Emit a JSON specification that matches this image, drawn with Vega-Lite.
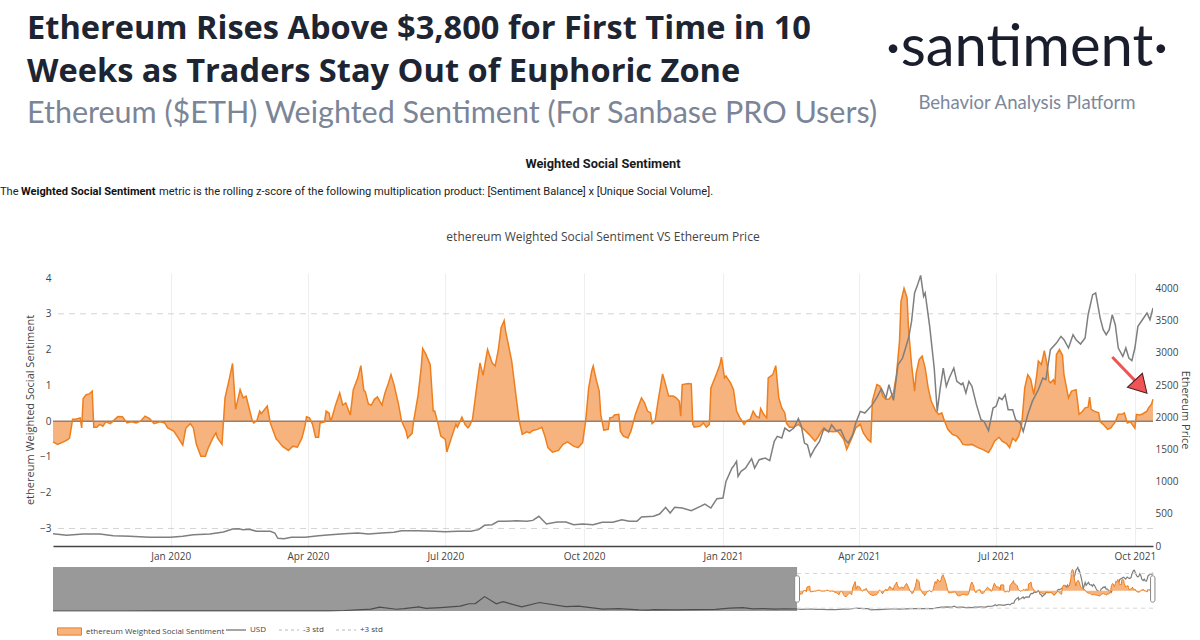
{
"$schema": "https://vega.github.io/schema/vega-lite/v6.json",
"autosize": {"type": "pad"},
"padding": {"left": 0, "top": 12, "right": 6, "bottom": 0},
"background": "white",
"bounds": "flush",
"spacing": 0,
"config": {
  "view": {"stroke": null},
  "font": "Open Sans",
  "axis": {"labelFont": "Open Sans", "titleFont": "Open Sans", "labelColor": "#444", "titleColor": "#444", "labelFontSize": 10, "titleFontSize": 11, "titleFontWeight": "normal", "ticks": false, "domain": false, "grid": false, "labelOverlap": false},
  "axisY": {"labelOverlap": false},
  "axisLeft": {"labelOverlap": false},
  "axisQuantitative": {"labelOverlap": false},
  "legend": {"labelFont": "Open Sans"}
},
"resolve": {"scale": {"x": "independent", "y": "independent", "color": "independent", "strokeDash": "independent", "fill": "independent"}},
"datasets": {
"sent": [
{"date":"2019-10-15","v":-0.58},{"date":"2019-10-18","v":-0.65},{"date":"2019-10-22","v":-0.58},{"date":"2019-10-25","v":-0.51},{"date":"2019-10-26","v":-0.47},{"date":"2019-10-28","v":0.05},{"date":"2019-10-30","v":0.05},{"date":"2019-11-02","v":0.09},{"date":"2019-11-03","v":-0.19},{"date":"2019-11-04","v":0.63},{"date":"2019-11-06","v":0.74},{"date":"2019-11-08","v":0.76},{"date":"2019-11-10","v":0.84},{"date":"2019-11-11","v":-0.17},{"date":"2019-11-13","v":-0.17},{"date":"2019-11-15","v":-0.09},{"date":"2019-11-17","v":-0.14},{"date":"2019-11-19","v":-0.02},{"date":"2019-11-22","v":-0.07},{"date":"2019-11-25","v":0.05},{"date":"2019-11-27","v":0.13},{"date":"2019-11-30","v":0.12},{"date":"2019-12-03","v":-0.05},{"date":"2019-12-06","v":-0.02},{"date":"2019-12-09","v":-0.05},{"date":"2019-12-12","v":0.0},{"date":"2019-12-15","v":0.14},{"date":"2019-12-18","v":0.07},{"date":"2019-12-21","v":-0.07},{"date":"2019-12-25","v":-0.02},{"date":"2019-12-28","v":-0.05},{"date":"2019-12-30","v":-0.19},{"date":"2020-01-03","v":-0.28},{"date":"2020-01-06","v":-0.47},{"date":"2020-01-09","v":-0.67},{"date":"2020-01-11","v":-0.2},{"date":"2020-01-14","v":-0.07},{"date":"2020-01-16","v":-0.19},{"date":"2020-01-18","v":-0.65},{"date":"2020-01-21","v":-0.98},{"date":"2020-01-24","v":-0.98},{"date":"2020-01-26","v":-0.74},{"date":"2020-01-29","v":-0.47},{"date":"2020-01-31","v":-0.33},{"date":"2020-02-01","v":-0.47},{"date":"2020-02-04","v":-0.65},{"date":"2020-02-05","v":0.0},{"date":"2020-02-06","v":0.65},{"date":"2020-02-09","v":1.21},{"date":"2020-02-11","v":1.61},{"date":"2020-02-13","v":0.33},{"date":"2020-02-16","v":0.88},{"date":"2020-02-18","v":0.65},{"date":"2020-02-20","v":0.7},{"date":"2020-02-24","v":0.02},{"date":"2020-02-25","v":-0.05},{"date":"2020-02-27","v":0.0},{"date":"2020-02-29","v":0.28},{"date":"2020-03-01","v":0.21},{"date":"2020-03-05","v":0.42},{"date":"2020-03-07","v":-0.05},{"date":"2020-03-09","v":-0.28},{"date":"2020-03-11","v":-0.51},{"date":"2020-03-12","v":-0.54},{"date":"2020-03-15","v":-0.7},{"date":"2020-03-19","v":-0.82},{"date":"2020-03-22","v":-0.7},{"date":"2020-03-25","v":-0.73},{"date":"2020-03-28","v":-0.47},{"date":"2020-03-30","v":-0.14},{"date":"2020-03-31","v":0.12},{"date":"2020-04-02","v":0.09},{"date":"2020-04-04","v":-0.09},{"date":"2020-04-06","v":-0.45},{"date":"2020-04-08","v":-0.45},{"date":"2020-04-09","v":-0.05},{"date":"2020-04-12","v":-0.02},{"date":"2020-04-13","v":0.28},{"date":"2020-04-15","v":0.22},{"date":"2020-04-16","v":-0.02},{"date":"2020-04-18","v":0.26},{"date":"2020-04-19","v":0.42},{"date":"2020-04-22","v":0.79},{"date":"2020-04-24","v":0.45},{"date":"2020-04-26","v":0.51},{"date":"2020-04-29","v":0.17},{"date":"2020-05-01","v":0.88},{"date":"2020-05-04","v":1.21},{"date":"2020-05-06","v":1.55},{"date":"2020-05-08","v":0.86},{"date":"2020-05-09","v":0.82},{"date":"2020-05-11","v":0.48},{"date":"2020-05-13","v":0.45},{"date":"2020-05-15","v":0.61},{"date":"2020-05-17","v":0.68},{"date":"2020-05-20","v":0.45},{"date":"2020-05-22","v":0.79},{"date":"2020-05-24","v":1.02},{"date":"2020-05-26","v":1.3},{"date":"2020-05-28","v":1.02},{"date":"2020-05-31","v":0.47},{"date":"2020-06-02","v":0.0},{"date":"2020-06-05","v":-0.28},{"date":"2020-06-06","v":-0.47},{"date":"2020-06-09","v":-0.34},{"date":"2020-06-10","v":0.0},{"date":"2020-06-13","v":0.74},{"date":"2020-06-15","v":1.49},{"date":"2020-06-16","v":2.03},{"date":"2020-06-18","v":1.88},{"date":"2020-06-21","v":1.58},{"date":"2020-06-23","v":0.28},{"date":"2020-06-24","v":0.28},{"date":"2020-06-26","v":-0.05},{"date":"2020-06-28","v":-0.42},{"date":"2020-07-01","v":-0.51},{"date":"2020-07-02","v":-0.86},{"date":"2020-07-05","v":-0.47},{"date":"2020-07-08","v":-0.09},{"date":"2020-07-09","v":-0.17},{"date":"2020-07-12","v":0.11},{"date":"2020-07-14","v":-0.09},{"date":"2020-07-16","v":-0.19},{"date":"2020-07-17","v":-0.14},{"date":"2020-07-19","v":0.05},{"date":"2020-07-20","v":0.37},{"date":"2020-07-22","v":1.02},{"date":"2020-07-24","v":1.63},{"date":"2020-07-26","v":1.28},{"date":"2020-07-28","v":1.77},{"date":"2020-07-29","v":2.0},{"date":"2020-08-01","v":1.63},{"date":"2020-08-03","v":1.54},{"date":"2020-08-05","v":1.96},{"date":"2020-08-07","v":2.61},{"date":"2020-08-09","v":2.81},{"date":"2020-08-10","v":2.51},{"date":"2020-08-14","v":1.68},{"date":"2020-08-17","v":0.65},{"date":"2020-08-19","v":0.0},{"date":"2020-08-21","v":-0.37},{"date":"2020-08-24","v":-0.3},{"date":"2020-08-26","v":-0.33},{"date":"2020-08-28","v":-0.26},{"date":"2020-08-31","v":-0.23},{"date":"2020-09-03","v":-0.17},{"date":"2020-09-05","v":-0.42},{"date":"2020-09-07","v":-0.74},{"date":"2020-09-10","v":-0.87},{"date":"2020-09-14","v":-0.82},{"date":"2020-09-17","v":-0.65},{"date":"2020-09-20","v":-0.58},{"date":"2020-09-24","v":-0.7},{"date":"2020-09-27","v":-0.74},{"date":"2020-09-30","v":-0.6},{"date":"2020-10-02","v":0.0},{"date":"2020-10-04","v":0.93},{"date":"2020-10-06","v":1.4},{"date":"2020-10-07","v":1.54},{"date":"2020-10-09","v":1.16},{"date":"2020-10-11","v":0.84},{"date":"2020-10-12","v":0.19},{"date":"2020-10-14","v":-0.25},{"date":"2020-10-17","v":-0.23},{"date":"2020-10-18","v":0.09},{"date":"2020-10-20","v":0.11},{"date":"2020-10-21","v":0.17},{"date":"2020-10-24","v":0.19},{"date":"2020-10-25","v":-0.28},{"date":"2020-10-27","v":-0.42},{"date":"2020-10-30","v":-0.47},{"date":"2020-11-01","v":-0.28},{"date":"2020-11-04","v":0.19},{"date":"2020-11-06","v":0.42},{"date":"2020-11-08","v":0.65},{"date":"2020-11-10","v":0.51},{"date":"2020-11-12","v":0.28},{"date":"2020-11-14","v":0.23},{"date":"2020-11-15","v":-0.07},{"date":"2020-11-17","v":0.0},{"date":"2020-11-19","v":0.56},{"date":"2020-11-22","v":1.32},{"date":"2020-11-24","v":1.02},{"date":"2020-11-26","v":0.7},{"date":"2020-11-29","v":0.7},{"date":"2020-12-01","v":0.65},{"date":"2020-12-03","v":0.56},{"date":"2020-12-04","v":0.14},{"date":"2020-12-05","v":1.02},{"date":"2020-12-09","v":1.05},{"date":"2020-12-11","v":1.04},{"date":"2020-12-12","v":-0.09},{"date":"2020-12-13","v":-0.17},{"date":"2020-12-17","v":-0.14},{"date":"2020-12-19","v":-0.05},{"date":"2020-12-21","v":-0.17},{"date":"2020-12-23","v":-0.09},{"date":"2020-12-24","v":0.93},{"date":"2020-12-28","v":1.35},{"date":"2020-12-30","v":1.58},{"date":"2020-12-31","v":1.79},{"date":"2021-01-02","v":1.21},{"date":"2021-01-03","v":1.26},{"date":"2021-01-06","v":1.07},{"date":"2021-01-08","v":0.88},{"date":"2021-01-10","v":0.28},{"date":"2021-01-12","v":0.11},{"date":"2021-01-15","v":-0.09},{"date":"2021-01-17","v":0.02},{"date":"2021-01-19","v":0.05},{"date":"2021-01-21","v":0.28},{"date":"2021-01-23","v":0.14},{"date":"2021-01-25","v":0.09},{"date":"2021-01-26","v":0.35},{"date":"2021-01-28","v":0.19},{"date":"2021-01-30","v":0.09},{"date":"2021-01-31","v":1.21},{"date":"2021-02-03","v":1.3},{"date":"2021-02-05","v":1.55},{"date":"2021-02-07","v":0.65},{"date":"2021-02-09","v":0.37},{"date":"2021-02-11","v":0.23},{"date":"2021-02-12","v":-0.05},{"date":"2021-02-14","v":-0.17},{"date":"2021-02-17","v":-0.17},{"date":"2021-02-20","v":-0.09},{"date":"2021-02-22","v":-0.17},{"date":"2021-02-25","v":-0.28},{"date":"2021-02-27","v":-0.37},{"date":"2021-03-03","v":-0.56},{"date":"2021-03-05","v":-0.45},{"date":"2021-03-08","v":-0.23},{"date":"2021-03-12","v":-0.28},{"date":"2021-03-15","v":-0.3},{"date":"2021-03-18","v":-0.28},{"date":"2021-03-22","v":-0.51},{"date":"2021-03-24","v":-0.79},{"date":"2021-03-27","v":-0.51},{"date":"2021-03-30","v":-0.19},{"date":"2021-04-02","v":-0.09},{"date":"2021-04-04","v":-0.33},{"date":"2021-04-07","v":-0.51},{"date":"2021-04-09","v":-0.58},{"date":"2021-04-10","v":0.56},{"date":"2021-04-13","v":1.02},{"date":"2021-04-15","v":0.98},{"date":"2021-04-17","v":0.7},{"date":"2021-04-19","v":0.61},{"date":"2021-04-21","v":0.61},{"date":"2021-04-24","v":0.79},{"date":"2021-04-26","v":1.3},{"date":"2021-04-28","v":2.23},{"date":"2021-04-29","v":3.35},{"date":"2021-05-01","v":3.71},{"date":"2021-05-03","v":3.45},{"date":"2021-05-04","v":2.56},{"date":"2021-05-06","v":1.58},{"date":"2021-05-08","v":0.84},{"date":"2021-05-09","v":1.32},{"date":"2021-05-11","v":1.72},{"date":"2021-05-13","v":1.82},{"date":"2021-05-15","v":1.49},{"date":"2021-05-17","v":0.93},{"date":"2021-05-19","v":0.56},{"date":"2021-05-22","v":0.28},{"date":"2021-05-24","v":0.19},{"date":"2021-05-26","v":0.23},{"date":"2021-05-28","v":-0.02},{"date":"2021-05-30","v":-0.23},{"date":"2021-06-02","v":-0.37},{"date":"2021-06-05","v":-0.42},{"date":"2021-06-07","v":-0.51},{"date":"2021-06-09","v":-0.65},{"date":"2021-06-12","v":-0.67},{"date":"2021-06-15","v":-0.65},{"date":"2021-06-19","v":-0.74},{"date":"2021-06-22","v":-0.79},{"date":"2021-06-26","v":-0.88},{"date":"2021-06-28","v":-0.74},{"date":"2021-06-30","v":-0.56},{"date":"2021-07-03","v":-0.45},{"date":"2021-07-05","v":-0.56},{"date":"2021-07-08","v":-0.63},{"date":"2021-07-10","v":-0.74},{"date":"2021-07-12","v":-0.48},{"date":"2021-07-14","v":-0.56},{"date":"2021-07-16","v":-0.42},{"date":"2021-07-18","v":-0.09},{"date":"2021-07-20","v":0.93},{"date":"2021-07-22","v":1.3},{"date":"2021-07-24","v":1.16},{"date":"2021-07-26","v":0.74},{"date":"2021-07-28","v":1.3},{"date":"2021-07-29","v":1.68},{"date":"2021-07-31","v":1.58},{"date":"2021-08-02","v":1.97},{"date":"2021-08-04","v":1.54},{"date":"2021-08-05","v":1.12},{"date":"2021-08-06","v":1.07},{"date":"2021-08-08","v":1.16},{"date":"2021-08-09","v":1.02},{"date":"2021-08-10","v":1.86},{"date":"2021-08-12","v":2.0},{"date":"2021-08-14","v":1.84},{"date":"2021-08-15","v":1.3},{"date":"2021-08-18","v":0.65},{"date":"2021-08-20","v":0.84},{"date":"2021-08-23","v":0.88},{"date":"2021-08-24","v":0.56},{"date":"2021-08-25","v":0.19},{"date":"2021-08-27","v":0.26},{"date":"2021-08-29","v":0.37},{"date":"2021-08-31","v":0.39},{"date":"2021-09-01","v":0.67},{"date":"2021-09-02","v":0.33},{"date":"2021-09-04","v":0.28},{"date":"2021-09-07","v":0.23},{"date":"2021-09-08","v":-0.02},{"date":"2021-09-10","v":-0.09},{"date":"2021-09-13","v":-0.23},{"date":"2021-09-15","v":-0.19},{"date":"2021-09-18","v":-0.02},{"date":"2021-09-20","v":0.19},{"date":"2021-09-23","v":0.2},{"date":"2021-09-24","v":0.23},{"date":"2021-09-26","v":-0.05},{"date":"2021-09-28","v":-0.02},{"date":"2021-09-30","v":-0.14},{"date":"2021-10-01","v":-0.2},{"date":"2021-10-02","v":0.19},{"date":"2021-10-04","v":0.17},{"date":"2021-10-06","v":0.2},{"date":"2021-10-09","v":0.28},{"date":"2021-10-10","v":0.37},{"date":"2021-10-12","v":0.47},{"date":"2021-10-13","v":0.61}
],
"price": [
{"date":"2015-08-13","usd":1.8},{"date":"2015-10-01","usd":0.7},{"date":"2016-01-01","usd":1},{"date":"2016-03-13","usd":15},{"date":"2016-06-17","usd":14},{"date":"2016-09-01","usd":12},{"date":"2016-12-01","usd":8},{"date":"2017-03-01","usd":18},{"date":"2017-04-01","usd":50},{"date":"2017-05-25","usd":180},{"date":"2017-06-12","usd":380},{"date":"2017-07-16","usd":170},{"date":"2017-08-01","usd":225},{"date":"2017-08-31","usd":390},{"date":"2017-09-15","usd":250},{"date":"2017-10-15","usd":330},{"date":"2017-11-24","usd":470},{"date":"2017-12-12","usd":700},{"date":"2017-12-25","usd":720},{"date":"2018-01-13","usd":1390},{"date":"2018-02-06","usd":700},{"date":"2018-02-20","usd":900},{"date":"2018-03-30","usd":400},{"date":"2018-05-05","usd":820},{"date":"2018-06-28","usd":420},{"date":"2018-07-24","usd":480},{"date":"2018-09-12","usd":180},{"date":"2018-10-15","usd":220},{"date":"2018-11-25","usd":110},{"date":"2018-12-14","usd":85},{"date":"2018-12-24","usd":140},{"date":"2019-02-07","usd":105},{"date":"2019-03-15","usd":135},{"date":"2019-05-01","usd":160},{"date":"2019-05-30","usd":270},{"date":"2019-06-26","usd":320},{"date":"2019-07-16","usd":200},{"date":"2019-08-07","usd":225},{"date":"2019-09-01","usd":175},{"date":"2019-09-18","usd":215},
{"date":"2019-10-15","usd":192},{"date":"2019-10-24","usd":166},{"date":"2019-11-04","usd":186},{"date":"2019-11-15","usd":186},{"date":"2019-11-24","usd":160},{"date":"2019-12-05","usd":150},{"date":"2019-12-18","usd":135},{"date":"2020-01-01","usd":135},{"date":"2020-01-09","usd":150},{"date":"2020-01-16","usd":176},{"date":"2020-01-27","usd":186},{"date":"2020-02-05","usd":217},{"date":"2020-02-11","usd":264},{"date":"2020-02-15","usd":269},{"date":"2020-02-18","usd":254},{"date":"2020-02-22","usd":259},{"date":"2020-02-27","usd":228},{"date":"2020-03-07","usd":228},{"date":"2020-03-10","usd":202},{"date":"2020-03-12","usd":120},{"date":"2020-03-16","usd":114},{"date":"2020-03-21","usd":135},{"date":"2020-03-30","usd":135},{"date":"2020-04-08","usd":160},{"date":"2020-04-16","usd":176},{"date":"2020-04-25","usd":192},{"date":"2020-05-04","usd":202},{"date":"2020-05-11","usd":186},{"date":"2020-05-20","usd":202},{"date":"2020-05-28","usd":212},{"date":"2020-06-02","usd":238},{"date":"2020-06-13","usd":238},{"date":"2020-06-24","usd":228},{"date":"2020-07-01","usd":223},{"date":"2020-07-09","usd":228},{"date":"2020-07-18","usd":228},{"date":"2020-07-23","usd":254},{"date":"2020-07-27","usd":321},{"date":"2020-08-01","usd":331},{"date":"2020-08-05","usd":383},{"date":"2020-08-10","usd":383},{"date":"2020-08-17","usd":393},{"date":"2020-08-24","usd":383},{"date":"2020-08-28","usd":398},{"date":"2020-09-01","usd":461},{"date":"2020-09-06","usd":342},{"date":"2020-09-13","usd":373},{"date":"2020-09-19","usd":373},{"date":"2020-09-24","usd":331},{"date":"2020-09-30","usd":342},{"date":"2020-10-07","usd":331},{"date":"2020-10-13","usd":368},{"date":"2020-10-20","usd":368},{"date":"2020-10-26","usd":409},{"date":"2020-10-31","usd":383},{"date":"2020-11-05","usd":383},{"date":"2020-11-08","usd":450},{"date":"2020-11-16","usd":461},{"date":"2020-11-20","usd":497},{"date":"2020-11-24","usd":600},{"date":"2020-11-27","usd":512},{"date":"2020-11-30","usd":600},{"date":"2020-12-05","usd":590},{"date":"2020-12-11","usd":549},{"date":"2020-12-17","usd":616},{"date":"2020-12-20","usd":652},{"date":"2020-12-24","usd":590},{"date":"2020-12-28","usd":735},{"date":"2021-01-01","usd":745},{"date":"2021-01-03","usd":1004},{"date":"2021-01-07","usd":1211},{"date":"2021-01-08","usd":1237},{"date":"2021-01-10","usd":1315},{"date":"2021-01-11","usd":1082},{"date":"2021-01-13","usd":1159},{"date":"2021-01-16","usd":1211},{"date":"2021-01-20","usd":1356},{"date":"2021-01-22","usd":1211},{"date":"2021-01-25","usd":1341},{"date":"2021-01-29","usd":1366},{"date":"2021-02-01","usd":1325},{"date":"2021-02-04","usd":1625},{"date":"2021-02-06","usd":1703},{"date":"2021-02-09","usd":1677},{"date":"2021-02-11","usd":1832},{"date":"2021-02-14","usd":1780},{"date":"2021-02-17","usd":1832},{"date":"2021-02-20","usd":1977},{"date":"2021-02-22","usd":1858},{"date":"2021-02-24","usd":1599},{"date":"2021-02-26","usd":1573},{"date":"2021-02-28","usd":1392},{"date":"2021-03-03","usd":1522},{"date":"2021-03-06","usd":1625},{"date":"2021-03-09","usd":1832},{"date":"2021-03-12","usd":1770},{"date":"2021-03-14","usd":1884},{"date":"2021-03-17","usd":1791},{"date":"2021-03-20","usd":1806},{"date":"2021-03-23","usd":1651},{"date":"2021-03-25","usd":1599},{"date":"2021-03-28","usd":1729},{"date":"2021-03-30","usd":1910},{"date":"2021-04-02","usd":2091},{"date":"2021-04-05","usd":2065},{"date":"2021-04-07","usd":2117},{"date":"2021-04-10","usd":2195},{"date":"2021-04-13","usd":2308},{"date":"2021-04-16","usd":2443},{"date":"2021-04-19","usd":2298},{"date":"2021-04-21","usd":2505},{"date":"2021-04-24","usd":2262},{"date":"2021-04-27","usd":2816},{"date":"2021-04-30","usd":2919},{"date":"2021-05-04","usd":3230},{"date":"2021-05-06","usd":3488},{"date":"2021-05-08","usd":3929},{"date":"2021-05-10","usd":4058},{"date":"2021-05-12","usd":4203},{"date":"2021-05-14","usd":3877},{"date":"2021-05-15","usd":3929},{"date":"2021-05-18","usd":3411},{"date":"2021-05-21","usd":2764},{"date":"2021-05-23","usd":2091},{"date":"2021-05-25","usd":2453},{"date":"2021-05-27","usd":2764},{"date":"2021-05-29","usd":2479},{"date":"2021-05-31","usd":2609},{"date":"2021-06-03","usd":2764},{"date":"2021-06-05","usd":2557},{"date":"2021-06-08","usd":2505},{"date":"2021-06-09","usd":2531},{"date":"2021-06-11","usd":2376},{"date":"2021-06-13","usd":2557},{"date":"2021-06-15","usd":2479},{"date":"2021-06-18","usd":2195},{"date":"2021-06-21","usd":1962},{"date":"2021-06-23","usd":1936},{"date":"2021-06-26","usd":1791},{"date":"2021-06-29","usd":2143},{"date":"2021-07-01","usd":2169},{"date":"2021-07-03","usd":2308},{"date":"2021-07-05","usd":2272},{"date":"2021-07-07","usd":2350},{"date":"2021-07-09","usd":2117},{"date":"2021-07-12","usd":2117},{"date":"2021-07-14","usd":1962},{"date":"2021-07-17","usd":1910},{"date":"2021-07-19","usd":1780},{"date":"2021-07-22","usd":2039},{"date":"2021-07-25","usd":2246},{"date":"2021-07-29","usd":2427},{"date":"2021-08-01","usd":2609},{"date":"2021-08-03","usd":2583},{"date":"2021-08-06","usd":3049},{"date":"2021-08-10","usd":3152},{"date":"2021-08-13","usd":3256},{"date":"2021-08-15","usd":3204},{"date":"2021-08-18","usd":3075},{"date":"2021-08-21","usd":3282},{"date":"2021-08-23","usd":3204},{"date":"2021-08-26","usd":3137},{"date":"2021-08-29","usd":3230},{"date":"2021-08-31","usd":3592},{"date":"2021-09-03","usd":3903},{"date":"2021-09-05","usd":3929},{"date":"2021-09-08","usd":3540},{"date":"2021-09-10","usd":3359},{"date":"2021-09-12","usd":3282},{"date":"2021-09-14","usd":3359},{"date":"2021-09-16","usd":3592},{"date":"2021-09-18","usd":3437},{"date":"2021-09-20","usd":3075},{"date":"2021-09-23","usd":2945},{"date":"2021-09-25","usd":3075},{"date":"2021-09-27","usd":2919},{"date":"2021-09-29","usd":2878},{"date":"2021-10-01","usd":3075},{"date":"2021-10-03","usd":3411},{"date":"2021-10-06","usd":3514},{"date":"2021-10-09","usd":3618},{"date":"2021-10-11","usd":3514},{"date":"2021-10-13","usd":3696}
],
"std": [{"v":3,"d1":"2019-10-15","d2":"2021-10-13","name":"+3 std"},{"v":-3,"d1":"2019-10-15","d2":"2021-10-13","name":"-3 std"}],
"legendarea": [{"name":"ethereum Weighted Social Sentiment"}],
"legendlines": [{"name":"USD"},{"name":"-3 std"},{"name":"+3 std"}]
},
"vconcat": [
{
  "hconcat": [
    {
      "width": 897, "height": 40,
      "data": {"values": []}, "mark": "point",
      "title": {"text": ["Ethereum Rises Above $3,800 for First Time in 10", "Weeks as Traders Stay Out of Euphoric Zone"], "subtitle": "Ethereum ($ETH) Weighted Sentiment (For Sanbase PRO Users)", "anchor": "start", "frame": "group", "orient": "top", "offset": 47, "dx": -26, "font": "Open Sans", "fontSize": 32.6, "fontWeight": "bold", "color": "#1d2532", "lineHeight": 43, "subtitleFont": "Lato", "subtitleFontSize": 30.5, "subtitleColor": "#7b8597", "subtitlePadding": 11, "subtitleLineHeight": 36}
    },
    {
      "width": 154, "height": 40,
      "data": {"values": []}, "mark": "point",
      "title": {"text": "·santiment·", "subtitle": "Behavior Analysis Platform", "anchor": "middle", "orient": "top", "offset": 64, "font": "Lato", "fontSize": 58, "fontWeight": "normal", "color": "#1a1e2c", "subtitleFont": "Lato", "subtitleFontSize": 18.6, "subtitleColor": "#7d889b", "subtitlePadding": 16}
    }
  ],
  "spacing": 0,
  "bounds": "flush"
},
{
  "width": 1100, "height": 23,
  "data": {"values": []}, "mark": "point",
  "title": {"text": "Weighted Social Sentiment", "anchor": "middle", "orient": "top", "offset": 6, "font": "Roboto", "fontSize": 12.8, "fontWeight": "bold", "color": "#1a1a1a"}
},
{
  "hconcat": [
    {
      "width": 20, "height": 10,
      "data": {"values": []}, "mark": "point",
      "title": {"text": "The", "anchor": "start", "frame": "group", "orient": "top", "offset": 3, "dx": -53, "font": "Roboto", "fontSize": 11.1, "fontWeight": "normal", "color": "#222"}
    },
    {
      "width": 138, "height": 10,
      "data": {"values": []}, "mark": "point",
      "title": {"text": "Weighted Social Sentiment", "anchor": "start", "frame": "group", "orient": "top", "offset": 3, "dx": -52, "font": "Roboto", "fontSize": 11.1, "fontWeight": "bold", "color": "#111"}
    },
    {
      "width": 942, "height": 10,
      "data": {"values": []}, "mark": "point",
      "title": {"text": "metric is the rolling z-score of the following multiplication product: [Sentiment Balance] x [Unique Social Volume].", "anchor": "start", "frame": "group", "orient": "top", "offset": 3, "dx": -52, "font": "Roboto", "fontSize": 11.1, "fontWeight": "normal", "color": "#222"}
    }
  ],
  "spacing": 0,
  "bounds": "flush"
},
{
  "width": 1100, "height": 73,
  "data": {"values": []}, "mark": "point"
},
{
  "width": 1100, "height": 273,
  "title": {"text": "ethereum Weighted Social Sentiment VS Ethereum Price", "anchor": "middle", "orient": "top", "offset": 29, "font": "Open Sans", "fontSize": 12, "fontWeight": "normal", "color": "#444"},
  "layer": [
    {
      "layer": [
        {
          "data": {"name": "std"},
          "mark": {"type": "rule", "color": "#d4d4d4", "strokeDash": [6, 5], "strokeWidth": 1},
          "encoding": {"y": {"field": "v", "type": "quantitative", "scale": {"domain": [-3.49, 4.14], "nice": false, "zero": false},
                  "axis": {"values": [-3, -2, -1, 0, 1, 2, 3, 4], "tickCount": 8, "title": "ethereum Weighted Social Sentiment", "labelPadding": 2, "titlePadding": 4, "labelOverlap": false, "labelSeparation": 0}}}
        },
        {
          "data": {"name": "sent"},
          "mark": {"type": "area", "color": "#f6b37d", "opacity": 1},
          "encoding": {
            "x": {"field": "date", "type": "temporal", "scale": {"domain": [{"year": 2019, "month": 10, "date": 15}, {"year": 2021, "month": 10, "date": 13}]},
                  "axis": {"values": [{"year": 2020, "month": 1, "date": 1}, {"year": 2020, "month": 4, "date": 1}, {"year": 2020, "month": 7, "date": 1}, {"year": 2020, "month": 10, "date": 1}, {"year": 2021, "month": 1, "date": 1}, {"year": 2021, "month": 4, "date": 1}, {"year": 2021, "month": 7, "date": 1}, {"year": 2021, "month": 10, "date": 1}], "format": "%b %Y", "grid": true, "gridColor": "#eeeeee", "domain": true, "domainColor": "#444", "domainWidth": 1.5, "labelPadding": 5, "title": null}},
            "y": {"field": "v", "type": "quantitative"},
            "y2": {"datum": 0}
          }
        },
        {
          "data": {"values": [{"v": 0}]},
          "mark": {"type": "rule", "color": "#957f6e", "strokeWidth": 1.5},
          "encoding": {"y": {"field": "v", "type": "quantitative"}}
        },
        {
          "data": {"name": "sent"},
          "mark": {"type": "line", "color": "#ee7f1e", "strokeWidth": 1.5},
          "encoding": {"x": {"field": "date", "type": "temporal"}, "y": {"field": "v", "type": "quantitative"}}
        },
        {
          "data": {"values": [{"date": "2021-09-16", "v": 1.79}, {"date": "2021-10-02", "v": 1.09}]},
          "mark": {"type": "line", "color": "#f05454", "strokeWidth": 3},
          "encoding": {"x": {"field": "date", "type": "temporal"}, "y": {"field": "v", "type": "quantitative"}}
        },
        {
          "data": {"values": [{"date": "2021-10-05", "v": 0.96}]},
          "mark": {"type": "point", "shape": "triangle-right", "angle": 47, "size": 420, "filled": true, "fill": "#f05454", "stroke": "#4a2020", "strokeWidth": 1, "opacity": 1},
          "encoding": {"x": {"field": "date", "type": "temporal"}, "y": {"field": "v", "type": "quantitative"}}
        }
      ]
    },
    {
      "data": {"name": "price"},
      "mark": {"type": "line", "color": "#7f7f7f", "strokeWidth": 1.5, "clip": true},
      "encoding": {
        "x": {"field": "date", "type": "temporal"},
        "y": {"field": "usd", "type": "quantitative", "scale": {"domain": [0, 4240], "nice": false},
              "axis": {"orient": "right", "values": [0, 500, 1000, 1500, 2000, 2500, 3000, 3500, 4000], "format": "d", "title": "Ethereum Price", "labelPadding": 2, "titlePadding": 2}}
      }
    }
  ],
  "resolve": {"scale": {"y": "independent"}}
},
{
  "width": 1100, "height": 21,
  "data": {"values": []}, "mark": "point"
},
{
  "width": 1100, "height": 44,
  "layer": [
    {
      "data": {"name": "price"},
      "mark": {"type": "line", "color": "#7f7f7f", "strokeWidth": 1.2},
      "encoding": {
        "x": {"field": "date", "type": "temporal", "scale": {"domain": [{"year": 2015, "month": 8, "date": 13}, {"year": 2021, "month": 10, "date": 13}]}, "axis": null},
        "y": {"field": "usd", "type": "quantitative", "scale": {"domain": [0, 4250], "nice": false}, "axis": null}
      }
    },
    {
      "layer": [
        {
          "data": {"name": "sent"},
          "mark": {"type": "area", "color": "#f6b37d", "opacity": 1},
          "encoding": {
            "x": {"field": "date", "type": "temporal"},
            "y": {"field": "v", "type": "quantitative", "scale": {"domain": [-3.49, 4.14], "nice": false, "zero": false}, "axis": null},
            "y2": {"datum": 0}
          }
        },
        {
          "data": {"name": "sent"},
          "mark": {"type": "line", "color": "#ee7f1e", "strokeWidth": 1},
          "encoding": {"x": {"field": "date", "type": "temporal"}, "y": {"field": "v", "type": "quantitative"}}
        },
        {
          "data": {"name": "std"},
          "mark": {"type": "rule", "color": "#d4d4d4", "strokeDash": [4, 4], "strokeWidth": 1},
          "encoding": {"x": {"field": "d1", "type": "temporal"}, "x2": {"field": "d2"}, "y": {"field": "v", "type": "quantitative"}}
        }
      ]
    },
    {
      "data": {"values": [{"d1": "2015-08-13", "d2": "2019-10-15"}]},
      "mark": {"type": "rect", "color": "#000000", "opacity": 0.4},
      "encoding": {"x": {"field": "d1", "type": "temporal"}, "x2": {"field": "d2"}}
    },
    {
      "data": {"values": [{"d1": "2019-10-10", "d2": "2019-10-20"}, {"d1": "2021-10-08", "d2": "2021-10-17"}]},
      "mark": {"type": "rect", "fill": "#ffffff", "stroke": "#888888", "strokeWidth": 1, "cornerRadius": 2},
      "encoding": {"x": {"field": "d1", "type": "temporal"}, "x2": {"field": "d2"}, "y": {"datum": 0.2, "scale": {"domain": [0, 1]}, "axis": null}, "y2": {"datum": 0.8}}
    },
    {
      "data": {"name": "legendarea"},
      "mark": {"type": "point", "clip": true, "filled": true},
      "encoding": {
        "y": {"datum": 5, "scale": {"domain": [0, 1]}, "axis": null},
        "fill": {"field": "name", "type": "nominal", "scale": {"domain": ["ethereum Weighted Social Sentiment"], "range": ["#f6b37d"]},
                 "legend": {"orient": "none", "legendX": 4, "legendY": 52, "direction": "horizontal", "title": null, "symbolType": "M-1,-0.3L1,-0.3L1,0.3L-1,0.3Z", "symbolSize": 576, "symbolStrokeColor": "#ee7f1e", "symbolStrokeWidth": 1, "symbolOpacity": 1, "labelFontSize": 8, "labelColor": "#444", "labelOffset": 4}}
      }
    },
    {
      "data": {"name": "legendlines"},
      "mark": {"type": "point", "clip": true},
      "encoding": {
        "y": {"datum": 5, "scale": {"domain": [0, 1]}, "axis": null},
        "color": {"field": "name", "type": "nominal", "scale": {"domain": ["USD", "-3 std", "+3 std"], "range": ["#7f7f7f", "#cccccc", "#cccccc"]},
                  "legend": {"orient": "none", "legendX": 172, "legendY": 52, "direction": "horizontal", "title": null, "symbolType": "stroke", "symbolSize": 400, "symbolStrokeWidth": 2, "labelFontSize": 8, "labelColor": "#444", "columnPadding": 8, "labelOffset": 3}},
        "strokeDash": {"field": "name", "type": "nominal", "scale": {"domain": ["USD", "-3 std", "+3 std"], "range": [[1, 0], [3, 3], [3, 3]]}, "legend": null}
      }
    }
  ],
  "resolve": {"scale": {"y": "independent"}}
}
]
}
